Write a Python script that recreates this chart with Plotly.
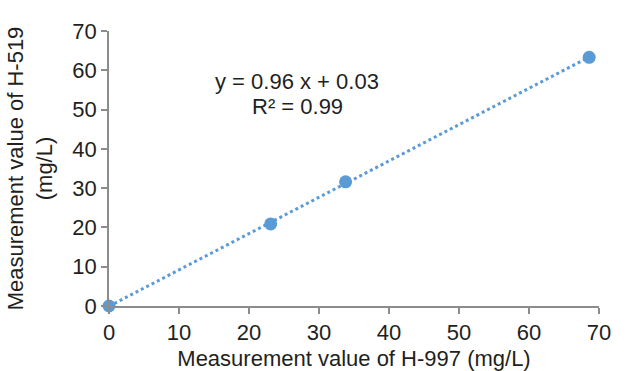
import numpy as np
import plotly.graph_objects as go

x_vals = [0.0, 23.1, 33.8, 68.6]
y_vals = [0.0, 20.9, 31.6, 63.3]
eq_text = "y = 0.96 x + 0.03"
r2_text = "R² = 0.99"
x_title = "Measurement value of H-997 (mg/L)"
y_title = "Measurement value of H-519<br>(mg/L)"

coef = np.polyfit(x_vals, y_vals, 1)
tx = [0.0, max(x_vals)]
ty = [coef[0] * v + coef[1] for v in tx]

blue = "#5B9BD5"
txt = "#231f20"
fig = go.Figure()
fig.add_trace(go.Scatter(x=tx, y=ty, mode="lines",
                         line=dict(color=blue, width=3, dash="dot"),
                         hoverinfo="skip", showlegend=False))
fig.add_trace(go.Scatter(x=x_vals, y=y_vals, mode="markers",
                         marker=dict(color=blue, size=13), showlegend=False,
                         cliponaxis=False))

axis_common = dict(range=[0, 70], dtick=10, showgrid=False, zeroline=False,
                   showline=True, linecolor="#8c8c8c", linewidth=1.5,
                   ticks="outside", ticklen=6, tickcolor="#8c8c8c", tickwidth=1.5,
                   tickfont=dict(size=22, color=txt), automargin=False)
fig.update_xaxes(**axis_common, title=dict(text=x_title, font=dict(size=22, color=txt), standoff=8))
fig.update_yaxes(**axis_common, title=dict(text=y_title, font=dict(size=22, color=txt), standoff=14))

def px_to_data(px, py):
    return (px - 109) / 490 * 70, (306 - py) / 275 * 70

ax1, ay1 = px_to_data(297, 81)
ax2, ay2 = px_to_data(297, 106)
fig.add_annotation(x=ax1, y=ay1, xref="x", yref="y", text=eq_text, showarrow=False,
                   font=dict(size=22, color=txt))
fig.add_annotation(x=ax2, y=ay2, xref="x", yref="y", text=r2_text, showarrow=False,
                   font=dict(size=22, color=txt))

fig.update_layout(width=627, height=371, plot_bgcolor="white", paper_bgcolor="white",
                  margin=dict(l=109, r=28, t=31, b=65),
                  font=dict(family="Liberation Sans, Arial, sans-serif"))
fig.write_html("out.html", config={"displayModeBar": False})

with open("out.html", "r", encoding="utf-8") as f:
    html = f.read()
html = html.replace("<body>", "<body style=\"margin:0;padding:0;overflow:hidden\">", 1)
with open("out.html", "w", encoding="utf-8") as f:
    f.write(html)
